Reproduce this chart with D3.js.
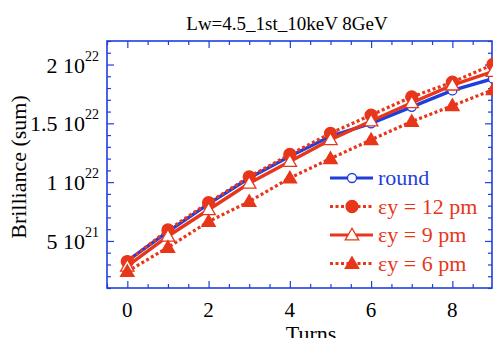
<!DOCTYPE html>
<html>
<head>
<meta charset="utf-8">
<script src="https://cdn.jsdelivr.net/npm/d3@7"></script>
<style>
  body { margin: 0; background: #fff; }
</style>
</head>
<body>
<svg id="chart" width="493" height="338"></svg>
<script>
// data (brilliance in units of 1e21)
var turns = [0, 1, 2, 3, 4, 5, 6, 7, 8, 9];
var round = [3.3, 5.8, 8.15, 10.35, 12.2, 13.9, 15.0, 16.4, 17.8, 18.8];
var ey12 = [3.25, 5.93, 8.25, 10.45, 12.35, 14.15, 15.7, 17.25, 18.5, 20.0];
var ey9 = [2.85, 5.4, 7.65, 9.9, 11.75, 13.6, 15.2, 16.75, 18.25, 19.4];
var ey6 = [2.4, 4.45, 6.65, 8.35, 10.35, 12.0, 13.6, 15.15, 16.5, 17.85];

var xMajor = [0, 2, 4, 6, 8];
var yMajor = [5, 10, 15, 20];
var yTickMant = ["5", "1", "1.5", "2"];
var yTickExp = ["21", "22", "22", "22"];

var blue = "#1f3fdc", red = "#e8361a";
var serif = "font-family: 'Liberation Serif', 'Tinos', 'DejaVu Serif', serif";

var series = [
  { name: "round", vals: round, color: blue, dash: null, marker: "circle", fill: "#fff", r: 4.5 },
  { name: "\u03b5y = 12 pm", vals: ey12, color: red, dash: "3,2.5", marker: "circle", fill: red, r: 6 },
  { name: "\u03b5y = 9 pm", vals: ey9, color: red, dash: null, marker: "triangle", fill: "#fff", r: 7 },
  { name: "\u03b5y = 6 pm", vals: ey6, color: red, dash: "3,2.5", marker: "triangle", fill: red, r: 7 }
];

var svg = d3.select("#chart");
var L = 107, R = 492, T = 41, B = 288;

var x = d3.scaleLinear().domain([-0.5, 9]).range([L, R + 1]);
var y = d3.scaleLinear().domain([1, 22]).range([B, T]);

// frame
svg.append("rect")
  .attr("x", L).attr("y", T).attr("width", R - L).attr("height", B - T)
  .attr("fill", "none").attr("stroke", blue).attr("stroke-width", 1.6);

// ticks (inward, mirrored)
function ticks(axis, tr, vals, size) {
  var g = svg.append("g").attr("transform", tr)
    .call(axis.tickValues(vals).tickSizeInner(size).tickSizeOuter(0).tickFormat(""));
  g.select(".domain").remove();
  g.selectAll(".tick line").attr("stroke", blue).attr("stroke-width", 1.2);
}
var xMinor = d3.range(-0.5, 9.01, 0.5).filter(function(v){ return xMajor.indexOf(v) < 0; });
var yMinor = d3.range(1, 22.01, 1).filter(function(v){ return yMajor.indexOf(v) < 0; });

ticks(d3.axisBottom(x), "translate(0," + B + ")", xMajor, -7);
ticks(d3.axisBottom(x), "translate(0," + B + ")", xMinor, -4);
ticks(d3.axisTop(x), "translate(0," + T + ")", xMajor, -7);
ticks(d3.axisTop(x), "translate(0," + T + ")", xMinor, -4);
ticks(d3.axisLeft(y), "translate(" + L + ",0)", yMajor, -7);
ticks(d3.axisLeft(y), "translate(" + L + ",0)", yMinor, -4);
ticks(d3.axisRight(y), "translate(" + R + ",0)", yMajor, -7);
ticks(d3.axisRight(y), "translate(" + R + ",0)", yMinor, -4);

// x tick labels
svg.append("g").selectAll("text").data(xMajor).join("text")
  .attr("style", serif)
  .attr("x", function(d){ return x(d); }).attr("y", 317)
  .attr("text-anchor", "middle").attr("font-size", 21)
  .text(function(d){ return d; });

// y tick labels with superscript
var yl = svg.append("g").selectAll("text").data(yMajor).join("text")
  .attr("style", serif)
  .attr("x", 99).attr("y", function(d){ return y(d) + 8; })
  .attr("text-anchor", "end").attr("font-size", 22);
yl.append("tspan").text(function(d, i){ return yTickMant[i] + " 10"; });
yl.append("tspan").attr("dy", -12).attr("font-size", 14)
  .text(function(d, i){ return yTickExp[i]; });

// titles
svg.append("text").attr("style", serif).attr("x", 287).attr("y", 30).attr("text-anchor", "middle")
  .attr("font-size", 19).text("Lw=4.5_1st_10keV 8GeV");
svg.append("text").attr("style", serif).attr("x", 311).attr("y", 341).attr("text-anchor", "middle")
  .attr("font-size", 22).text("Turns");
svg.append("text").attr("style", serif).attr("transform", "translate(26,167) rotate(-90)")
  .attr("text-anchor", "middle").attr("font-size", 22).text("Brilliance (sum)");

// series
var line = d3.line().x(function(d){ return x(d[0]); }).y(function(d){ return y(d[1]); });
var tri = d3.symbol().type(d3.symbolTriangle);

function drawMarker(sel, s) {
  if (s.marker === "circle") {
    sel.append("circle").attr("r", s.r);
  } else {
    sel.append("path").attr("d", tri.size(s.r * s.r * 1.6)()).attr("transform", "translate(0,1)");
  }
  sel.selectAll("circle,path").attr("fill", s.fill).attr("stroke", s.color).attr("stroke-width", 1.3);
}

series.forEach(function(s) {
  var pts = turns.map(function(t, i){ return [t, s.vals[i]]; });
  svg.append("path").datum(pts).attr("d", line)
    .attr("fill", "none").attr("stroke", s.color)
    .attr("stroke-width", s.dash ? 3.2 : 3.4)
    .attr("stroke-dasharray", s.dash);
  svg.append("g").selectAll("g").data(pts).join("g")
    .attr("transform", function(d){ return "translate(" + x(d[0]) + "," + y(d[1]) + ")"; })
    .each(function(){ drawMarker(d3.select(this), s); });
});

// legend
var leg = svg.append("g").selectAll("g").data(series).join("g")
  .attr("transform", function(d, i){ return "translate(330," + (178 + i * 28.5) + ")"; });
leg.append("line").attr("x1", 0).attr("x2", 43)
  .attr("stroke", function(d){ return d.color; }).attr("stroke-width", 3)
  .attr("stroke-dasharray", function(d){ return d.dash; });
leg.each(function(s){
  var g = d3.select(this).append("g").attr("transform", "translate(22,0)");
  drawMarker(g, s);
});
leg.append("text").attr("style", serif).attr("x", 48).attr("y", 7).attr("font-size", 22)
  .attr("fill", function(d){ return d.color; })
  .text(function(d){ return d.name; });
</script>
</body>
</html>
